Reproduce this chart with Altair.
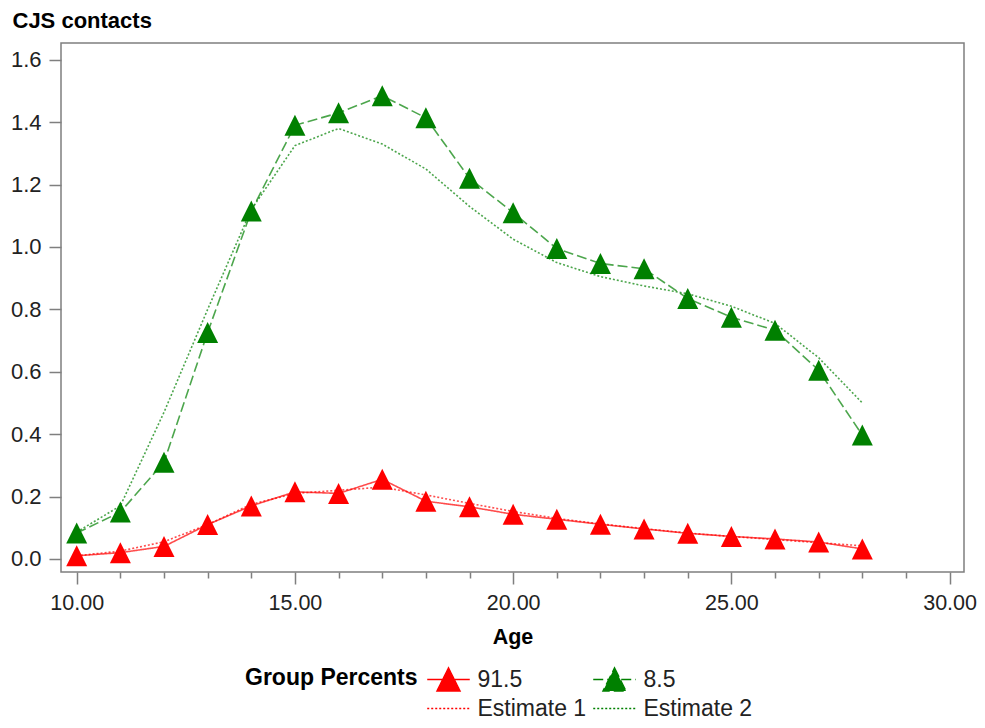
import altair as alt
import pandas as pd

# ---- data ----
ages = list(range(10, 29))
obs_915 = [0.01, 0.02, 0.04, 0.11, 0.17, 0.215, 0.21, 0.255, 0.185, 0.167,
           0.143, 0.127, 0.111, 0.096, 0.082, 0.072, 0.064, 0.054, 0.032]
est_1 = [0.01, 0.025, 0.055, 0.11, 0.175, 0.21, 0.22, 0.23, 0.205, 0.178,
         0.152, 0.13, 0.112, 0.097, 0.083, 0.072, 0.062, 0.052, 0.042]
obs_85 = [0.083, 0.15, 0.31, 0.726, 1.115, 1.39, 1.43, 1.485, 1.414, 1.22,
          1.11, 0.995, 0.947, 0.93, 0.835, 0.775, 0.733, 0.605, 0.397]
est_2 = [0.086, 0.17, 0.47, 0.80, 1.12, 1.325, 1.38, 1.33, 1.25, 1.13,
         1.025, 0.95, 0.905, 0.875, 0.85, 0.81, 0.755, 0.645, 0.50]

series_names = ["91.5", "8.5", "Estimate 1", "Estimate 2"]
series_values = [obs_915, obs_85, est_1, est_2]
series_kind = ["observed", "observed", "estimate", "estimate"]

x_ticks = list(range(10, 31))
y_ticks = [round(i * 0.05, 2) for i in range(0, 33)]

rows = []
for name, vals, kind in zip(series_names, series_values, series_kind):
    for a, v in zip(ages, vals):
        rows.append({"Age": a, "value": v, "series": name, "kind": kind})
df = pd.DataFrame(rows)

# ---- styling ----
FONT = "Liberation Sans"
colors = ["#FF0000", "#008000", "#FF0000", "#008000"]
dashes = [[1, 0], [10, 4], [2, 2], [2, 2]]
legend_shapes = ["M-1.85,0L1.85,0M0,-1L1,1L-1,1Z",
                 "M-1.85,0L1.85,0M0,-1L1,1L-1,1Z",
                 "M-1.85,0L1.85,0",
                 "M-1.85,0L1.85,0"]
AXIS_GRAY = "#7f7f7f"
TEXT = "#222222"

color_scale = alt.Scale(domain=series_names, range=colors)
dash_scale = alt.Scale(domain=series_names, range=dashes)
shape_scale = alt.Scale(domain=series_names, range=legend_shapes)

x_enc = alt.X(
    "Age:Q",
    scale=alt.Scale(domain=[9.64, 30.33], nice=False, zero=False),
    axis=alt.Axis(
        values=x_ticks,
        labelExpr="datum.value % 5 == 0 ? format(datum.value, '.2f') : ''",
        tickSize={"condition": {"test": "datum.value % 5 == 0", "value": 12}, "value": 6},
        tickColor=AXIS_GRAY, tickWidth=1.5, domain=False, grid=False,
        labelFont=FONT, labelFontSize=21.5, labelColor=TEXT,
        labelBaseline="alphabetic", labelPadding=25,
        labelOverlap=False, labelFlush=False,
        title="Age", titleFont=FONT, titleFontSize=21.5, titleFontWeight="bold",
        titleColor="#000000", titleBaseline="alphabetic", titleY=71,
    ),
)
y_enc = alt.Y(
    "value:Q",
    scale=alt.Scale(domain=[-0.042, 1.654], nice=False, zero=False),
    axis=alt.Axis(
        values=y_ticks,
        labelExpr="round(datum.value * 100) % 20 == 0 ? format(datum.value, '.1f') : ''",
        tickSize={"condition": {"test": "round(datum.value * 100) % 20 == 0", "value": 12}, "value": 6},
        tickColor=AXIS_GRAY, tickWidth=1.5, domain=False, grid=False,
        labelFont=FONT, labelFontSize=22, labelColor=TEXT, labelPadding=8,
        labelOverlap=False, labelFlush=False,
        title="CJS contacts", titleFont=FONT, titleFontSize=22, titleFontWeight="bold",
        titleColor="#000000", titleAngle=0, titleAlign="left", titleBaseline="alphabetic",
        titleX=-49, titleY=-16,
    ),
)

leg = alt.Legend(
    title="Group Percents", orient="none", legendX=184, legendY=624,
    direction="horizontal", columns=2, titleOrient="left",
    titleAnchor="start", titleBaseline="top",
    titleFont=FONT, titleFontSize=23, titleFontWeight="bold", titleColor="#000000",
    titlePadding=18,
    labelFont=FONT, labelFontSize=23, labelColor=TEXT, labelLimit=400,
    symbolSize=529, symbolStrokeWidth=1.5, symbolOpacity=1,
    labelOffset=16.5, columnPadding=3, rowPadding=2, padding=0,
)

# legend-carrying layer (draws no marks itself), placed first so its legend wins the merge
legend_layer = alt.Chart(df).transform_filter("false").mark_point(
    filled=True, opacity=1, strokeWidth=1.5
).encode(
    x=x_enc,
    y=y_enc,
    color=alt.Color("series:N", scale=color_scale, legend=leg),
    stroke=alt.Stroke("series:N", scale=color_scale, legend=leg),
    shape=alt.Shape("series:N", scale=shape_scale, legend=leg),
    strokeDash=alt.StrokeDash("series:N", scale=dash_scale, legend=leg),
)

lines = alt.Chart(df).mark_line(strokeWidth=1.6, opacity=0.7).encode(
    x="Age:Q",
    y="value:Q",
    color=alt.Color("series:N", scale=color_scale, legend=None),
    strokeDash=alt.StrokeDash("series:N", scale=dash_scale, legend=None),
    detail="series:N",
)

points = alt.Chart(df).transform_filter(alt.datum.kind == "observed").mark_point(
    filled=True, shape="M0,-1L1,1L-1,1Z", size=441, opacity=1
).encode(
    x="Age:Q",
    y="value:Q",
    color=alt.Color("series:N", scale=color_scale, legend=None),
)

chart = alt.layer(legend_layer, lines, points).properties(
    width=903, height=529,
    autosize=alt.AutoSizeParams(type="none"),
    padding={"left": 53, "top": 35, "right": 13, "bottom": 148},
).configure(
    background="white",
    view=alt.ViewConfig(stroke=AXIS_GRAY, strokeWidth=1.5),
)

chart.save("out.html", embed_options={"renderer": "svg", "actions": False})
